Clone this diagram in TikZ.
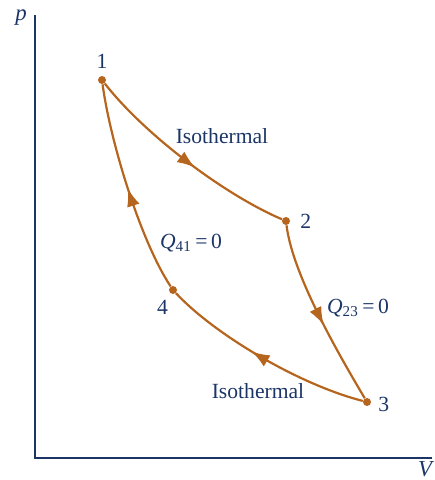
\documentclass[tikz,border=0pt]{standalone}
\usepackage{fontspec}
\setmainfont{Liberation Serif}
\usepackage{tikz}
\usetikzlibrary{arrows.meta,positioning,decorations.markings}
\definecolor{cycle}{HTML}{B5651D}
\definecolor{axisblue}{HTML}{1B3567}

\tikzset{
  state/.style={circle, fill=cycle, inner sep=0pt, minimum size=0.16cm},
  lbl/.style={text=axisblue, font=\fontsize{12.3}{14}\selectfont, inner sep=1pt},
  process/.style={draw=cycle, line width=1.25pt,
    postaction={decorate, decoration={markings,
      mark=at position #1 with {\arrow{Latex[length=0.36cm, width=0.26cm]}}}}},
  process/.default=0.5
}

\begin{document}
\begin{tikzpicture}[x=0.02cm, y=-0.02cm]
  \useasboundingbox (0,0) rectangle (434,480);

  % axes
  \coordinate (origin) at (35,458);
  \coordinate (ptop) at (35,15);
  \coordinate (vend) at (432,458);
  \draw[axisblue, line width=0.85pt] (ptop) -- (origin) -- (vend);
  \node[lbl, font=\fontsize{13}{15}\selectfont\itshape] (plabel) at (21,18) {p};
  \node[lbl, font=\fontsize{13}{15}\selectfont\itshape] (vlabel) at (425,469) {V};

  % states
  \node[state] (s1) at (102,80) {};
  \node[state] (s2) at (286,221) {};
  \node[state] (s3) at (367,402) {};
  \node[state] (s4) at (173,290) {};
  \node[lbl, above=0.1cm of s1] (n1) {1};
  \node[lbl, right=0.16cm of s2] (n2) {2};
  \node[lbl, right=0.1cm of s3, yshift=-0.05cm] (n3) {3};
  \node[lbl, below left=0.1cm and 0.0cm of s4] (n4) {4};

  % processes
  \draw[process=0.55] (s1) .. controls (145,135) and (225,195) .. (s2);
  \draw[process=0.56] (s2) .. controls (292,270) and (330,340) .. (s3);
  \draw[process=0.56] (s3) .. controls (300,385) and (215,335) .. (s4);
  \draw[process] (s4) .. controls (140,240) and (110,140) .. (s1);

  % process labels
  \node[lbl] (iso12) at (222,136) {Isothermal};
  \node[lbl] (iso34) at (258,391) {Isothermal};
  \node[lbl] (q41) at (191,243) {\textit{Q}\textsubscript{41}\,=\,0};
  \node[lbl] (q23) at (358,308) {\textit{Q}\textsubscript{23}\,=\,0};
\end{tikzpicture}
\end{document}
